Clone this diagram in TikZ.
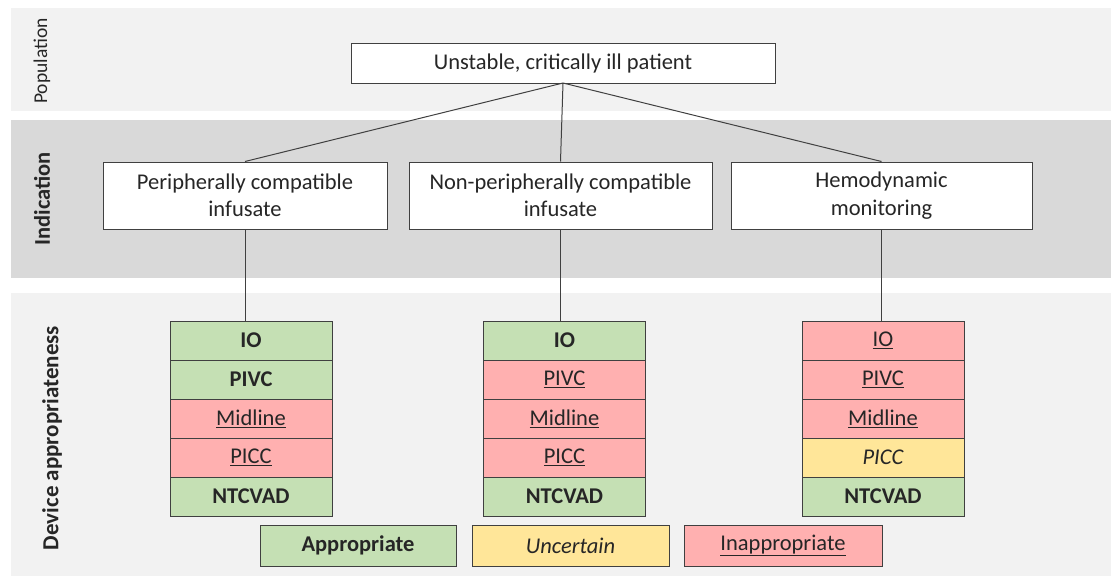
\documentclass[tikz,border=0pt]{standalone}
\usepackage{fontspec}
\setmainfont{Carlito}
\definecolor{bandlight}{HTML}{F2F2F2}
\definecolor{banddark}{HTML}{D9D9D9}
\definecolor{okgreen}{HTML}{C5E0B4}
\definecolor{badred}{HTML}{FFB0B0}
\definecolor{unsure}{HTML}{FFE699}
\definecolor{edge}{HTML}{404040}
\definecolor{txt}{HTML}{262626}
\begin{document}
\begin{tikzpicture}[x=1pt,y=-1pt,
  box/.style={draw=edge,line width=1pt,fill=white,text=txt,align=center,
    inner sep=0pt,font=\fontsize{22.5}{27.5}\selectfont},
  cell/.style={draw=edge,line width=1pt,text=txt,minimum width=162pt,minimum height=39pt,
    inner sep=0pt,font=\fontsize{22.5}{26}\selectfont},
  legend/.style={draw=edge,line width=1pt,text=txt,minimum width=197pt,minimum height=41pt,
    inner sep=0pt,font=\fontsize{22.5}{26}\selectfont},
  conn/.style={draw=edge,line width=1pt},
  side/.style={rotate=90,text=txt}]
\useasboundingbox (0,0) rectangle (1111,576);
% bands
\fill[bandlight] (11,8) rectangle (1111,111);
\fill[banddark] (11,120) rectangle (1111,278);
\fill[bandlight] (11,293) rectangle (1111,576);
% side labels
\node[side,font=\fontsize{19.5}{22}\selectfont] (lpop) at (42,61) {Population};
\node[side,font=\fontsize{22.5}{26}\selectfont\bfseries] (lind) at (42,199) {Indication};
\node[side,font=\fontsize{23}{26}\selectfont\bfseries] (ldev) at (52,438) {Device appropriateness};
% top box
\node[box,minimum width=424pt,minimum height=40pt] (top) at (563,63) {Unstable, critically ill patient};
% indication boxes
\node[box,minimum width=284pt,minimum height=67pt] (ind1) at (245,195.5) {Peripherally compatible\\infusate};
\node[box,minimum width=303pt,minimum height=67pt] (ind2) at (560.5,195.5) {Non-peripherally compatible\\infusate};
\node[box,minimum width=301pt,minimum height=67pt] (ind3) at (881.5,195.5) {Hemodynamic\\monitoring};
\coordinate (hub) at (563,83);
\draw[conn] (hub) -- (ind1.north);
\draw[conn] (hub) -- (ind2.north);
\draw[conn] (hub) -- (ind3.north);
% stacks
% column 1
\node[cell,fill=okgreen,font=\fontsize{22.5}{26}\selectfont\bfseries] (a1) at (251,340.5) {IO};
\node[cell,fill=okgreen,font=\fontsize{22.5}{26}\selectfont\bfseries] (a2) at (251,379.5) {PIVC};
\node[cell,fill=badred] (a3) at (251,418.5) {\underline{Midline}};
\node[cell,fill=badred] (a4) at (251,457.5) {\underline{PICC}};
\node[cell,fill=okgreen,font=\fontsize{22.5}{26}\selectfont\bfseries] (a5) at (251,496.5) {NTCVAD};
% column 2
\node[cell,fill=okgreen,font=\fontsize{22.5}{26}\selectfont\bfseries] (b1) at (564.5,340.5) {IO};
\node[cell,fill=badred] (b2) at (564.5,379.5) {\underline{PIVC}};
\node[cell,fill=badred] (b3) at (564.5,418.5) {\underline{Midline}};
\node[cell,fill=badred] (b4) at (564.5,457.5) {\underline{PICC}};
\node[cell,fill=okgreen,font=\fontsize{22.5}{26}\selectfont\bfseries] (b5) at (564.5,496.5) {NTCVAD};
% column 3
\node[cell,fill=badred] (c1) at (883,340.5) {\underline{IO}};
\node[cell,fill=badred] (c2) at (883,379.5) {\underline{PIVC}};
\node[cell,fill=badred] (c3) at (883,418.5) {\underline{Midline}};
\node[cell,fill=unsure,font=\fontsize{22.5}{26}\selectfont\itshape] (c4) at (883,457.5) {PICC};
\node[cell,fill=okgreen,font=\fontsize{22.5}{26}\selectfont\bfseries] (c5) at (883,496.5) {NTCVAD};
% vertical connectors
\draw[conn] (ind1.south) -- (ind1.south |- a1.north);
\draw[conn] (ind2.south) -- (ind2.south |- b1.north);
\draw[conn] (ind3.south) -- (ind3.south |- c1.north);
% legend
\node[legend,fill=okgreen,minimum width=196pt,font=\fontsize{22.5}{26}\selectfont\bfseries] (lg1) at (358,545.5) {Appropriate};
\node[legend,fill=unsure,font=\fontsize{22.5}{26}\selectfont\itshape] (lg2) at (570.5,545.5) {Uncertain};
\node[legend,fill=badred,minimum width=198pt] (lg3) at (783,545.5) {\underline{Inappropriate}};
\end{tikzpicture}
\end{document}
